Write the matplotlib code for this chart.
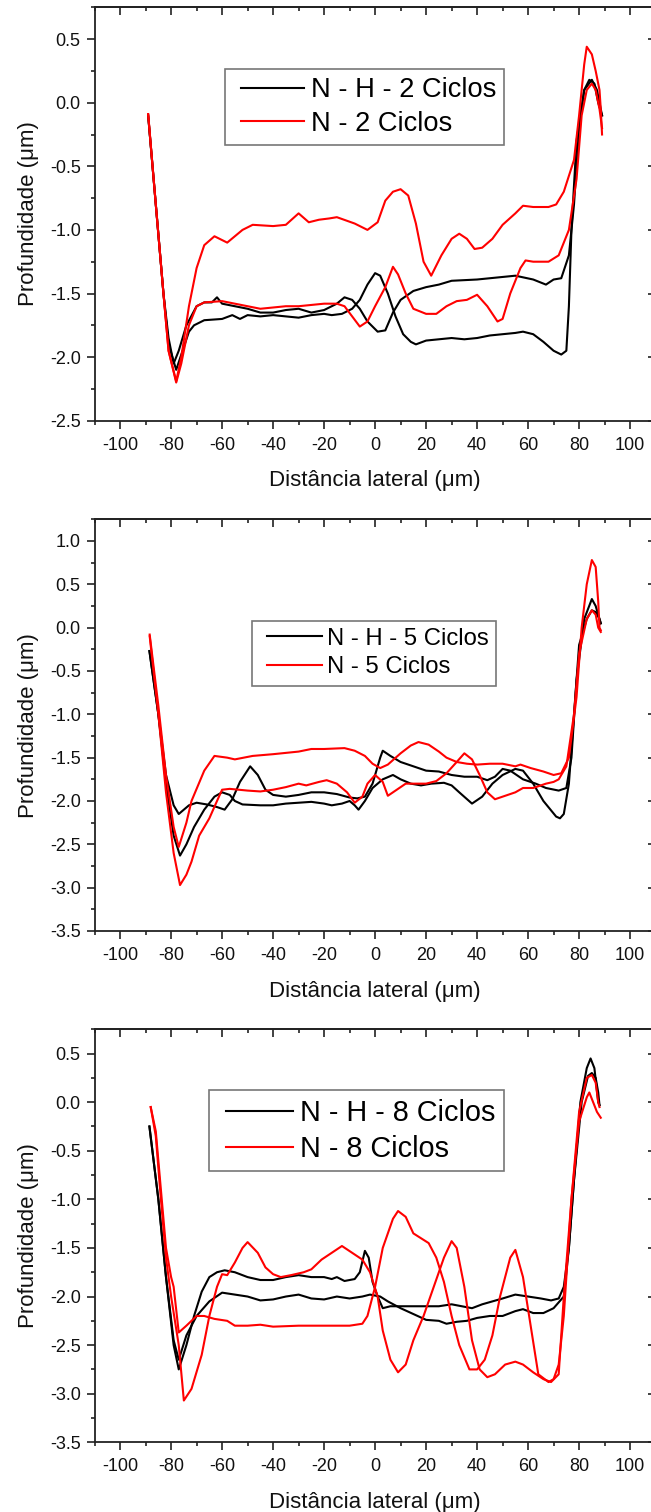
import matplotlib
matplotlib.use("Agg")
import matplotlib.pyplot as plt
from matplotlib.ticker import MultipleLocator, FormatStrFormatter
from matplotlib.legend_handler import HandlerLine2D

plt.rcParams['font.family'] = ['Liberation Sans', 'DejaVu Sans']
plt.rcParams['axes.unicode_minus'] = False

# ---------------- Panel 1 (2 ciclos) ----------------
p1_nh_a_x = [-89, -86, -83, -81, -79, -77, -74, -70, -67, -64, -62, -60, -55, -50, -45, -40, -35, -30, -25, -20, -15, -12, -9, -6, -3, 1, 4, 7, 10, 15, 20, 25, 30, 40, 50, 55, 62, 67, 70, 73, 76, 78, 80, 82, 84, 86, 87.5, 89]
p1_nh_a_y = [-0.1, -0.8, -1.5, -1.85, -2.05, -1.95, -1.75, -1.6, -1.57, -1.57, -1.53, -1.58, -1.6, -1.62, -1.65, -1.65, -1.63, -1.62, -1.65, -1.63, -1.58, -1.53, -1.55, -1.62, -1.72, -1.8, -1.79, -1.65, -1.55, -1.48, -1.45, -1.43, -1.4, -1.39, -1.37, -1.36, -1.39, -1.43, -1.39, -1.38, -1.2, -0.8, -0.2, 0.1, 0.18, 0.15, 0.0, -0.1]
p1_nh_b_x = [-89, -86, -83, -81, -78, -76, -73, -71, -67, -60, -56, -53, -50, -45, -40, -35, -30, -25, -20, -17, -13, -9, -6, -3, 0, 2, 5, 8, 11, 14, 16, 20, 25, 30, 35, 40, 45, 50, 55, 58, 62, 66, 70, 73, 75, 76, 77, 79, 82, 85, 87, 88.5, 89]
p1_nh_b_y = [-0.1, -0.8, -1.5, -1.9, -2.1, -1.98, -1.8, -1.75, -1.71, -1.7, -1.67, -1.7, -1.67, -1.68, -1.67, -1.68, -1.69, -1.67, -1.66, -1.67, -1.66, -1.62, -1.55, -1.43, -1.34, -1.36, -1.5, -1.68, -1.82, -1.88, -1.9, -1.87, -1.86, -1.85, -1.86, -1.85, -1.83, -1.82, -1.81, -1.8, -1.82, -1.88, -1.95, -1.98, -1.95, -1.6, -1.0, -0.3, 0.1, 0.18, 0.1, -0.05, -0.1]
p1_n_a_x = [-89, -86, -83, -81, -78, -76, -73, -70, -67, -63, -58, -55, -52, -48, -40, -35, -30, -26, -22, -18, -15, -8, -3, 1, 4, 7, 10, 13, 16, 19, 22, 26, 30, 33, 36, 39, 42, 46, 50, 55, 58, 62, 68, 71, 74, 78, 80, 82, 83, 85, 86.5, 88, 88.5, 89]
p1_n_a_y = [-0.09, -0.8, -1.5, -1.95, -2.19, -2.0, -1.6, -1.3, -1.12, -1.05, -1.1, -1.05, -1.0, -0.96, -0.97, -0.96, -0.87, -0.94, -0.92, -0.91, -0.9, -0.95, -1.0, -0.94, -0.77, -0.7, -0.68, -0.73, -0.95, -1.25, -1.36, -1.2, -1.07, -1.03, -1.07, -1.15, -1.14, -1.07, -0.96, -0.87, -0.81, -0.82, -0.82, -0.8, -0.7, -0.45, -0.1, 0.3, 0.44, 0.38, 0.25, 0.1, -0.05, -0.25]
p1_n_b_x = [-89, -86, -83, -81, -78, -76, -73, -70, -67, -60, -55, -50, -45, -40, -35, -30, -25, -20, -15, -12, -9, -6, -3, 0, 4, 7, 9, 12, 15, 20, 24, 28, 32, 36, 40, 44, 48, 50, 53, 57, 59, 62, 68, 72, 76, 79, 81, 83, 85, 86.5, 88, 89]
p1_n_b_y = [-0.09, -0.8, -1.5, -1.95, -2.2, -2.05, -1.75, -1.6, -1.57, -1.56, -1.58, -1.6, -1.62, -1.61, -1.6, -1.6, -1.59, -1.58, -1.58, -1.6, -1.68, -1.76, -1.72, -1.6, -1.45, -1.29, -1.35, -1.5, -1.62, -1.66, -1.66, -1.6, -1.56, -1.55, -1.51, -1.6, -1.72, -1.7, -1.5, -1.3, -1.24, -1.25, -1.25, -1.2, -1.0, -0.6, -0.1, 0.1, 0.15, 0.1, -0.05, -0.2]

# ---------------- Panel 2 (5 ciclos) ----------------
p2_nh_a_x = [-88.5, -85, -82, -79, -77, -73, -70, -66, -62, -59, -56, -53, -49, -46, -43, -40, -35, -30, -25, -20, -15, -10, -7, -4, -1, 2, 3, 6, 10, 15, 20, 25, 30, 35, 40, 44, 47, 50, 53, 58, 63, 67, 72, 75, 77, 79, 82, 85, 86.5, 88, 88.5]
p2_nh_a_y = [-0.27, -1.0, -1.7, -2.05, -2.15, -2.05, -2.02, -2.04, -2.07, -2.1, -1.98, -1.78, -1.6, -1.7, -1.87, -1.93, -1.95, -1.93, -1.9, -1.9, -1.92, -1.96, -1.97, -1.95, -1.8, -1.5, -1.42, -1.48, -1.55, -1.6, -1.65, -1.66, -1.7, -1.72, -1.72, -1.76, -1.72, -1.63, -1.65, -1.75, -1.8, -1.85, -1.88, -1.85, -1.5, -0.6, 0.1, 0.33, 0.25, 0.1, 0.05]
p2_nh_b_x = [-88.5, -85, -82, -79, -76.5, -74, -71, -67, -63, -60, -57, -55, -52, -45, -40, -35, -30, -25, -20, -17, -13, -10, -8, -6.5, -4, -1, 3, 7, 10, 14, 18, 22, 27, 30, 33, 38, 42, 46, 50, 55, 58, 62, 66, 71, 72.5, 74, 76, 78, 80, 83, 85, 86.5, 88, 88.5]
p2_nh_b_y = [-0.27, -1.0, -1.8, -2.4, -2.63, -2.5, -2.3, -2.1, -1.95, -1.9, -1.93, -2.0, -2.04, -2.05, -2.05, -2.03, -2.02, -2.01, -2.03, -2.05, -2.03, -2.0, -2.05, -2.1, -2.0, -1.85, -1.75, -1.7, -1.75, -1.8, -1.82, -1.8, -1.79, -1.82, -1.9, -2.03, -1.95, -1.8, -1.7, -1.63, -1.65, -1.8, -2.0, -2.18, -2.2, -2.15, -1.8, -1.0, -0.2, 0.1, 0.2, 0.18, 0.1, 0.05]
p2_n_a_x = [-88.4, -85, -82, -79, -77, -74, -72, -67, -63, -58, -55, -48, -40, -30, -25, -20, -12, -8, -4, -1, 2, 5, 10, 14, 17, 21, 25, 28, 32, 36, 40, 45, 50, 55, 57, 61, 66, 70, 73, 76, 79, 81, 83, 85, 86.5, 87.5, 88, 88.5]
p2_n_a_y = [-0.08, -0.9, -1.7, -2.3, -2.53, -2.25, -2.0, -1.65, -1.48, -1.5, -1.52, -1.48, -1.46, -1.43, -1.4, -1.4, -1.39, -1.42, -1.48, -1.57, -1.62, -1.58, -1.45, -1.36, -1.32, -1.35, -1.43, -1.5, -1.55, -1.57, -1.58, -1.57, -1.57, -1.6, -1.58, -1.62, -1.66, -1.7, -1.68, -1.5, -0.8, 0.0, 0.5, 0.78, 0.7, 0.3, 0.0, -0.03]
p2_n_b_x = [-88.4, -85, -82, -79, -76.5, -74, -72, -69, -65, -62, -60, -57, -50, -45, -40, -35, -30, -27, -22, -19, -15, -11, -8, -5, -3, 0, 3, 5, 8, 12, 16, 20, 24, 28, 32, 35, 38, 41, 44, 47, 51, 55, 58, 62, 67, 70, 72, 75, 78, 80, 83, 85, 86.5, 87.5, 88.5]
p2_n_b_y = [-0.1, -1.0, -1.9, -2.6, -2.97, -2.85, -2.7, -2.4, -2.2, -2.0, -1.87, -1.86, -1.88, -1.89, -1.87, -1.84, -1.8, -1.82, -1.78, -1.76, -1.8, -1.9, -2.02, -1.95, -1.8, -1.7, -1.78, -1.94, -1.88, -1.8, -1.8, -1.8, -1.77, -1.68, -1.55, -1.45, -1.52, -1.7, -1.9, -1.98, -1.94, -1.9, -1.85, -1.85, -1.8, -1.78, -1.75, -1.6, -1.0, -0.3, 0.1, 0.2, 0.15, 0.0, -0.05]

# ---------------- Panel 3 (8 ciclos) ----------------
p3_nh_a_x = [-88.5, -85, -82, -79, -77, -74, -71, -68, -65, -62, -59, -55, -50, -45, -40, -35, -30, -25, -20, -17, -15, -12, -8, -6, -4, -2.5, -1, 1, 3, 6, 10, 15, 20, 25, 30, 34, 38, 42, 46, 50, 55, 60, 65, 69, 72, 74, 76, 78, 80.5, 83, 84.5, 86, 87.5, 88]
p3_nh_a_y = [-0.25, -1.0, -1.8, -2.5, -2.75, -2.5, -2.2, -1.95, -1.8, -1.75, -1.73, -1.75, -1.8, -1.83, -1.83, -1.8, -1.78, -1.8, -1.8, -1.82, -1.8, -1.84, -1.82, -1.75, -1.53, -1.6, -1.85, -2.0, -2.12, -2.1, -2.1, -2.1, -2.1, -2.1, -2.08, -2.1, -2.12, -2.08, -2.05, -2.02, -1.98, -2.0, -2.02, -2.04, -2.02, -1.9, -1.5, -0.8, 0.0, 0.35, 0.45, 0.35, 0.0, -0.03]
p3_nh_b_x = [-88.5, -85, -82, -79, -77, -74, -70, -65, -60, -55, -50, -45, -40, -35, -30, -25, -20, -15, -10, -5, -2, 2, 5, 10, 15, 20, 25, 28, 32, 36, 40, 45, 50, 55, 58, 62, 66, 70, 74, 76, 78, 81, 83.5, 85, 86.5, 87.5, 88]
p3_nh_b_y = [-0.25, -1.0, -1.8, -2.45, -2.65, -2.4, -2.2, -2.05, -1.96, -1.98, -2.0, -2.04, -2.03, -2.0, -1.98, -2.02, -2.03, -2.0, -2.02, -2.0, -1.98, -2.0, -2.05, -2.12, -2.18, -2.24, -2.25, -2.28, -2.26, -2.25, -2.22, -2.2, -2.2, -2.15, -2.13, -2.17, -2.17, -2.12, -2.0, -1.5, -0.8, 0.0, 0.27, 0.3, 0.25, 0.1, -0.03]
p3_n_a_x = [-88, -86, -84, -82, -80, -79, -77, -74, -70, -67, -63, -58, -55, -50, -45, -40, -30, -20, -10, -5, -3, 0, 3, 7, 9, 12, 15, 18, 21, 24, 27, 30, 33, 37, 40, 43, 46, 49, 53, 55, 58, 61, 64, 68, 70, 72, 74, 77, 80, 83, 84, 85.5, 87, 88.5]
p3_n_a_y = [-0.05, -0.3, -0.9, -1.5, -1.8, -1.9, -2.37, -2.3, -2.2, -2.2, -2.23, -2.25, -2.3, -2.3, -2.29, -2.31, -2.3, -2.3, -2.3, -2.28, -2.2, -1.9, -1.5, -1.2, -1.12, -1.18, -1.35, -1.4, -1.45, -1.6, -1.85, -2.2, -2.5, -2.75, -2.75, -2.65, -2.4, -2.0, -1.6, -1.52, -1.8, -2.3, -2.8, -2.88, -2.85, -2.7, -2.2, -1.0, -0.2, 0.05, 0.1, 0.0, -0.1, -0.16]
p3_n_b_x = [-88, -86, -84, -82, -80, -77, -75, -72, -68, -65, -62, -60, -58, -55, -52, -50, -46, -43, -40, -37, -33, -28, -25, -21, -17, -13, -9, -5, -2, 1, 3, 6, 9, 12, 15, 19, 23, 27, 30, 32, 35, 38, 41, 44, 47, 51, 55, 58, 62, 66, 69, 72, 74, 77, 80, 83, 85, 86.5, 87.5, 88]
p3_n_b_y = [-0.05, -0.35, -1.0, -1.6, -2.0, -2.5, -3.07, -2.95, -2.6, -2.2, -1.9, -1.77, -1.78, -1.65, -1.5, -1.44, -1.55, -1.7, -1.77, -1.8, -1.78, -1.75, -1.72, -1.62, -1.55, -1.48, -1.55, -1.62, -1.75, -2.0, -2.35, -2.65, -2.78, -2.7, -2.45, -2.2, -1.9, -1.6, -1.43, -1.5, -1.9, -2.45, -2.75, -2.83, -2.8, -2.7, -2.67, -2.7, -2.78, -2.85, -2.88, -2.8, -2.0, -1.0, -0.1, 0.25, 0.28, 0.2, 0.0, -0.05]

labels_nh = ["N - H - 2 Ciclos", "N - H - 5 Ciclos", "N - H - 8 Ciclos"]
labels_n = ["N - 2 Ciclos", "N - 5 Ciclos", "N - 8 Ciclos"]
ylims = [(-2.5, 0.75), (-3.5, 1.25), (-3.5, 0.75)]
x_ticks = [-100, -80, -60, -40, -20, 0, 20, 40, 60, 80, 100]

panels = [
    (p1_nh_a_x, p1_nh_a_y, p1_nh_b_x, p1_nh_b_y, p1_n_a_x, p1_n_a_y, p1_n_b_x, p1_n_b_y),
    (p2_nh_a_x, p2_nh_a_y, p2_nh_b_x, p2_nh_b_y, p2_n_a_x, p2_n_a_y, p2_n_b_x, p2_n_b_y),
    (p3_nh_a_x, p3_nh_a_y, p3_nh_b_x, p3_nh_b_y, p3_n_a_x, p3_n_a_y, p3_n_b_x, p3_n_b_y),
]


class OffsetLineHandler(HandlerLine2D):
    """Line handle that leaves some blank space at its left (Origin style)."""
    def __init__(self, frac=0.3, **kw):
        super().__init__(**kw)
        self.frac = frac

    def create_artists(self, legend, orig_handle, xdescent, ydescent, width, height, fontsize, trans):
        off = self.frac * fontsize
        return super().create_artists(legend, orig_handle, xdescent - off, ydescent,
                                      width - off, height, fontsize, trans)


W, H = 651, 1512
fig = plt.figure(figsize=(W / 100, H / 100), dpi=100)

# axes boxes in pixels: (left, top, right, bottom)
boxes = [(94.6, 7.3, 655.6, 420.7), (94.6, 519.3, 655.6, 931.0), (94.6, 1029.3, 655.6, 1442.3)]
legend_anchor = [(0.2325, 0.851), (0.281, 0.754), (0.204, 0.853)]
legend_fs = [19.6, 17.2, 20.8]

tick_col = '#222222'
for i, (box, data) in enumerate(zip(boxes, panels)):
    l, t, r, b = box
    ax = fig.add_axes([l / W, 1 - b / H, (r - l) / W, (b - t) / H])
    nhax, nhay, nhbx, nhby, nax, nay, nbx, nby = data
    ax.plot(nhax, nhay, color='black', lw=1.5, label=labels_nh[i])
    ax.plot(nhbx, nhby, color='black', lw=1.5)
    ax.plot(nax, nay, color='#ff0000', lw=1.5, label=labels_n[i])
    ax.plot(nbx, nby, color='#ff0000', lw=1.5)
    ax.set_xlim(-110, 110)
    ax.set_ylim(*ylims[i])
    ax.set_xticks(x_ticks)
    ax.xaxis.set_minor_locator(MultipleLocator(10))
    ax.yaxis.set_major_locator(MultipleLocator(0.5))
    ax.yaxis.set_minor_locator(MultipleLocator(0.25))
    ax.yaxis.set_major_formatter(FormatStrFormatter('%.1f'))
    ax.tick_params(axis='both', which='major', direction='out', length=6, width=1.2,
                   labelsize=13, pad=4, colors=tick_col, labelcolor='#111111')
    ax.tick_params(axis='x', which='major', pad=5.5)
    ax.tick_params(axis='both', which='minor', direction='out', length=3.2, width=1.2, colors=tick_col)
    for s in ax.spines.values():
        s.set_linewidth(1.3)
        s.set_color(tick_col)
    # top/right inward ticks
    secx = ax.secondary_xaxis('top')
    secx.set_xticks(x_ticks)
    secx.xaxis.set_minor_locator(MultipleLocator(10))
    secx.tick_params(which='major', direction='in', length=6, width=1.2, labeltop=False, colors=tick_col)
    secx.tick_params(which='minor', direction='in', length=3.2, width=1.2, colors=tick_col)
    secx.spines['top'].set_linewidth(1.3)
    secx.spines['top'].set_color(tick_col)
    secy = ax.secondary_yaxis('right')
    secy.yaxis.set_major_locator(MultipleLocator(0.5))
    secy.yaxis.set_minor_locator(MultipleLocator(0.25))
    secy.tick_params(which='major', direction='in', length=6, width=1.2, labelright=False, colors=tick_col)
    secy.tick_params(which='minor', direction='in', length=3.2, width=1.2, colors=tick_col)

    ax.set_xlabel('Distância lateral (μm)', fontsize=16, labelpad=12, color='#111111')
    ax.set_ylabel('Profundidade (μm)', fontsize=16, color='#111111')
    ax.yaxis.set_label_coords(-0.099, 0.5)

    leg = ax.legend(loc='upper left', bbox_to_anchor=legend_anchor[i], fontsize=legend_fs[i],
                    frameon=True, fancybox=False, shadow=False, handlelength=2.6,
                    handletextpad=0.25, borderpad=0.3, labelspacing=0.28, borderaxespad=0,
                    edgecolor='#777777',
                    handler_map={matplotlib.lines.Line2D: OffsetLineHandler(frac=0.3)})
    leg.get_frame().set_linewidth(1.2)
    leg.get_frame().set_alpha(1)

fig.savefig('out.png', dpi=100)
